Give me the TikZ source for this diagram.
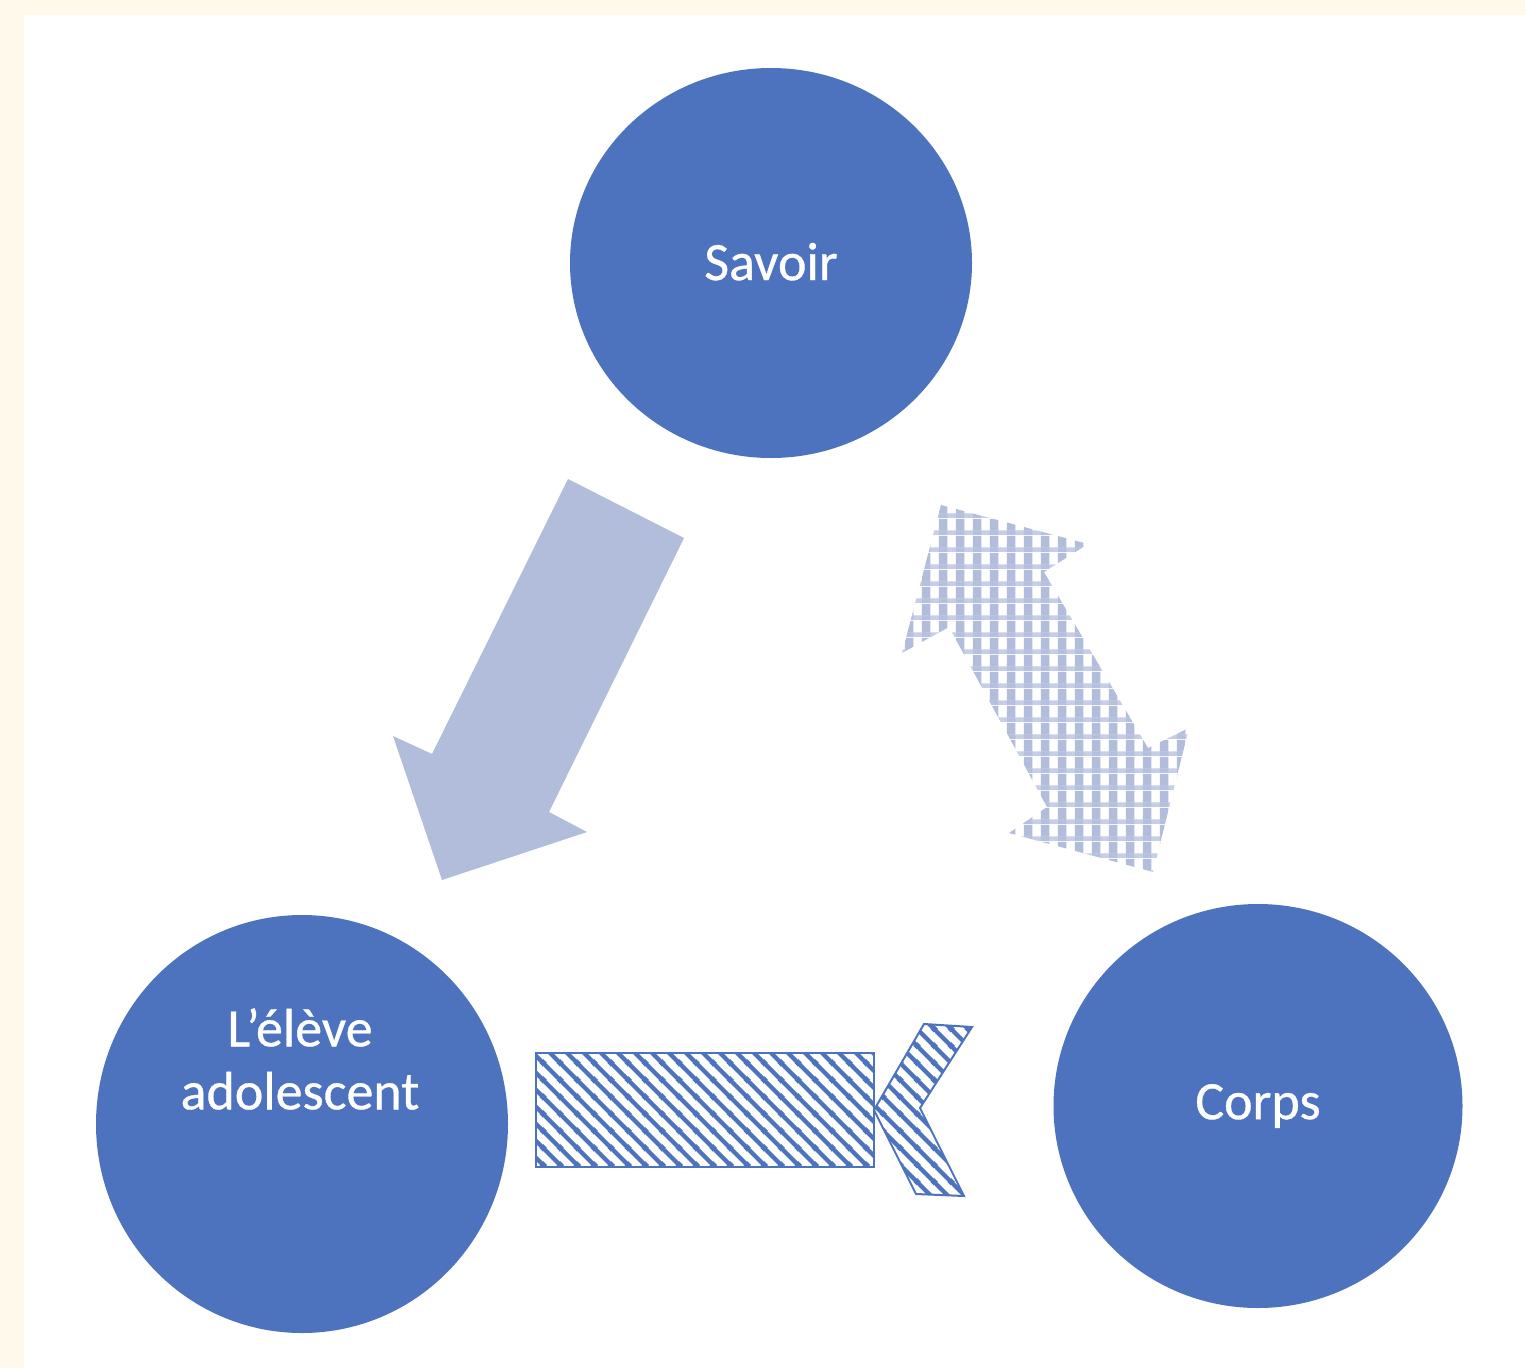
\documentclass[tikz,border=0pt]{standalone}
\usepackage{fontspec}
\setmainfont{Carlito}
\newfontfamily\discfont[FakeBold=0.6]{Carlito}
\usetikzlibrary{shapes.geometric,patterns.meta}
\definecolor{cblue}{HTML}{4E73BE}
\definecolor{lblue}{HTML}{B1BDDB}
\definecolor{mblue}{HTML}{C6CFE7}
\definecolor{cream}{HTML}{FFF9EC}
\tikzdeclarepattern{
  name=diagstripes,
  type=colored,
  bounding box={(0pt,0pt) and (17pt,17pt)},
  tile size={(17pt,17pt)},
  code={
    \draw[line width=4.5pt, draw=cblue] (-8.5pt,8.5pt)--(8.5pt,-8.5pt) (-1pt,18pt)--(18pt,-1pt) (8.5pt,25.5pt)--(25.5pt,8.5pt);
  }
}
\tikzdeclarepattern{
  name=plaid,
  type=colored,
  bounding box={(0pt,0pt) and (17pt,17pt)},
  tile size={(17pt,17pt)},
  code={
    \fill[mblue] (0pt,0pt) rectangle (17pt,5pt);
    \fill[lblue] (4pt,5pt) rectangle (13pt,17pt);
    \fill[lblue!85!mblue] (4pt,0pt) rectangle (13pt,5pt);
  }
}
\tikzset{
  disc/.style={ellipse, fill=cblue, inner sep=0pt, text=white, font=\discfont\fontsize{54}{63}\selectfont, align=center},
  disctext/.style={text=white, font=\discfont\fontsize{54}{63}\selectfont, align=center, inner sep=0pt},
  plainarrow/.style={fill=lblue, draw=none},
  checkarrow/.style={pattern={plaid}, draw=none},
  stripeshape/.style={pattern={diagstripes}, draw=cblue, line width=2pt, line join=miter},
}
\begin{document}
\begin{tikzpicture}[x=1pt,y=-1pt]
\useasboundingbox (0,0) rectangle (1525,1368);
\fill[cream] (0,0) rectangle (1525,1368);
\fill[white] (24,15) rectangle (1525,1368);

\node[disc, minimum width=402pt, minimum height=390pt] (savoir) at (771,263) {\raisebox{3pt}{Savoir}};
\node[disc, minimum width=412pt, minimum height=418pt] (eleve) at (302,1124) {};
\node[disctext] (elevetext) at (300,1059) {L’élève\\adolescent};
\node[disc, minimum width=409pt, minimum height=404pt] (corps) at (1258,1106) {\raisebox{-2pt}{Corps}};

% arrow Savoir -> eleve
\fill[plainarrow] (568,479) -- (684,538) -- (549,812) -- (587,832) -- (442,880) -- (393,736) -- (432,754) -- cycle;

% double arrow Savoir <-> Corps
\fill[checkarrow] (941,505) -- (1088,544) -- (1044,572) -- (1148,748) -- (1189,728) -- (1153,872) -- (1009,833) -- (1047,807) -- (949,627) -- (902,653) -- cycle;

% striped arrow Corps -> eleve
\draw[stripeshape] (536,1053) rectangle (874,1167);
\draw[stripeshape] (924,1024) -- (972,1027) -- (920,1108) -- (964,1196) -- (916,1194) -- (874,1110) -- cycle;
\end{tikzpicture}
\end{document}
